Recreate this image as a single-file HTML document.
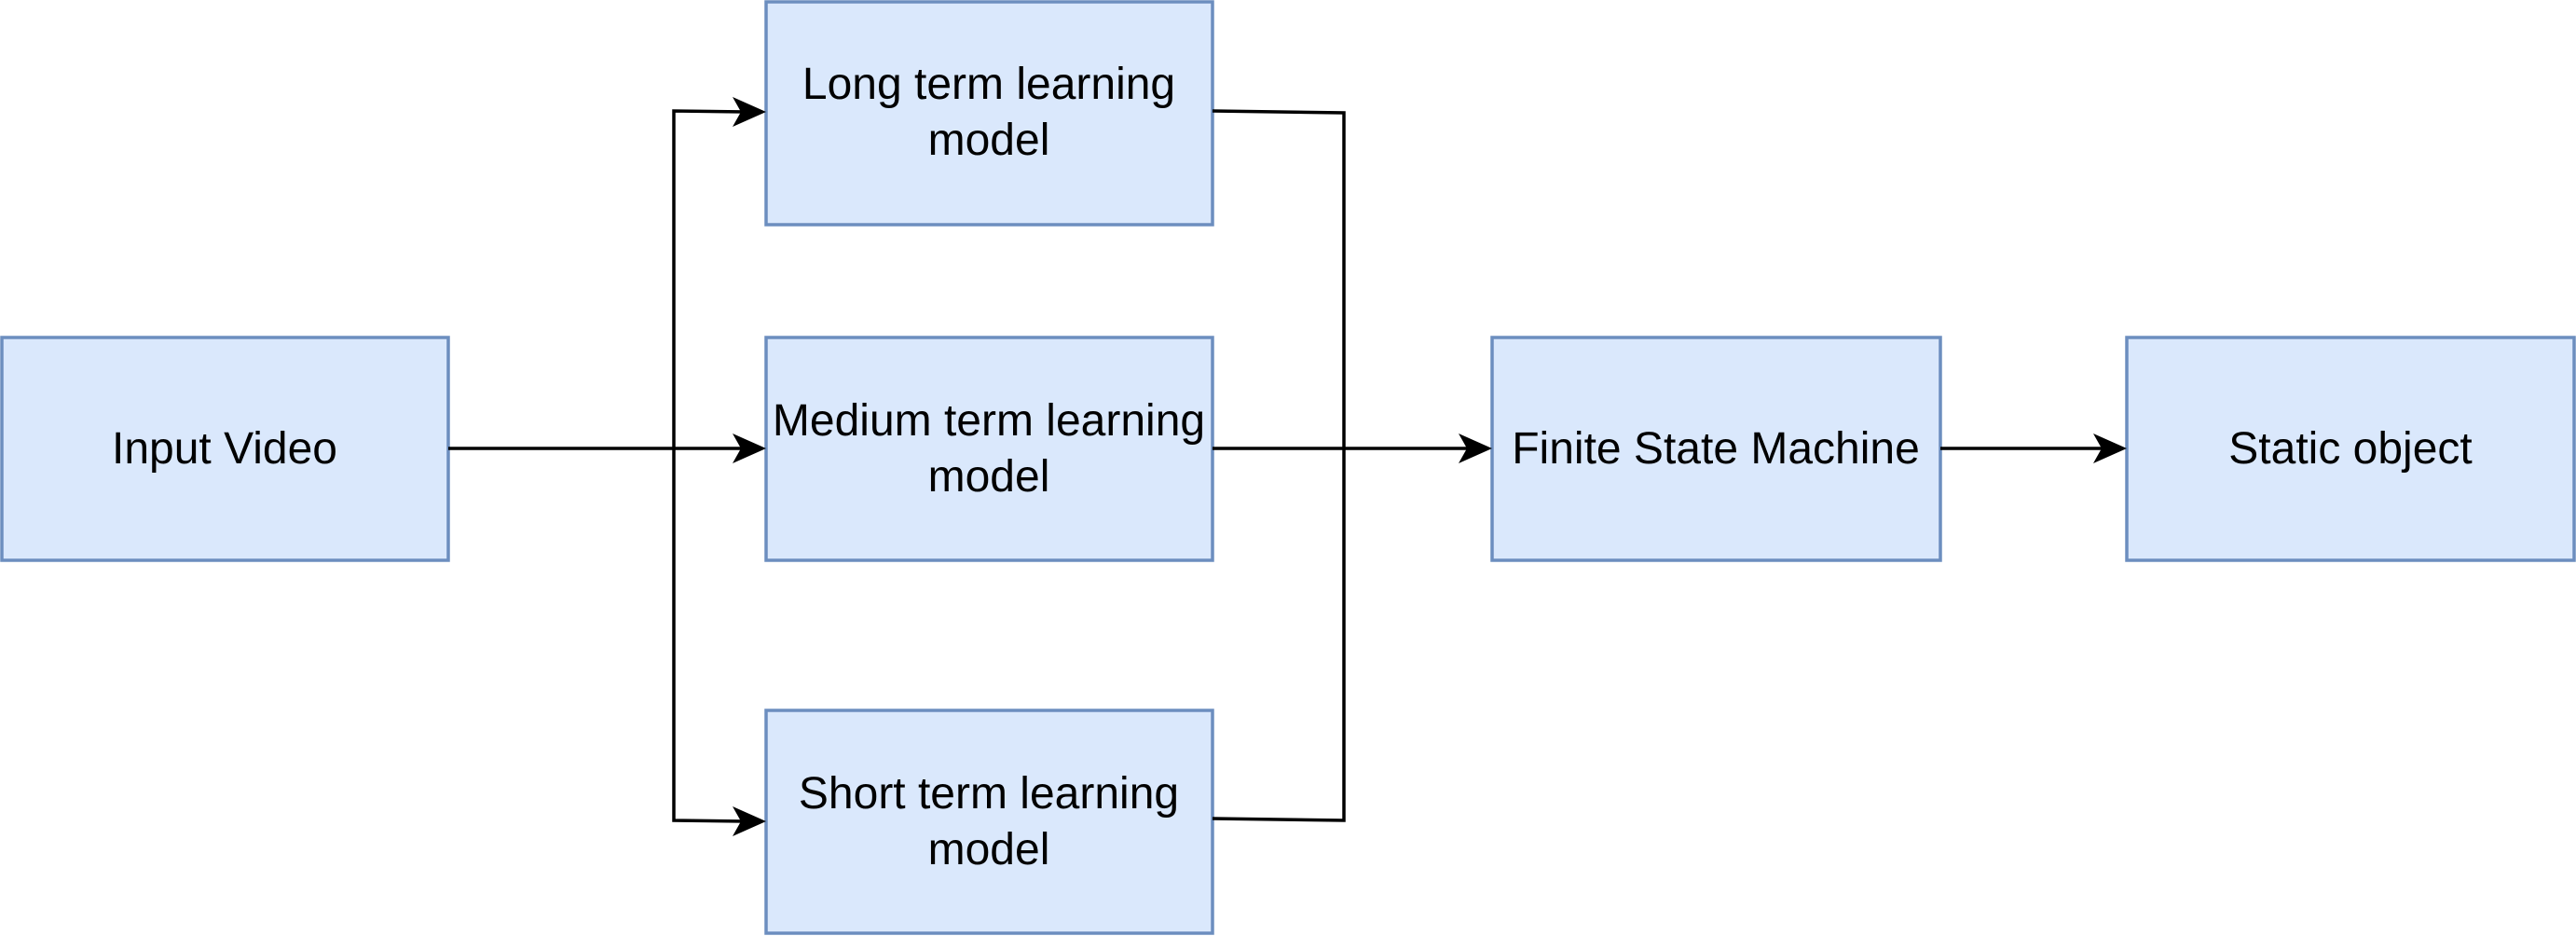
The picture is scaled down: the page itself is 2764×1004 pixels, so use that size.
<!DOCTYPE html>
<html><head><meta charset="utf-8"><style>
html,body{margin:0;padding:0;background:#fff;}
svg{display:block;}
text{font-family:"Liberation Sans",sans-serif;font-size:48px;fill:#000;}
</style></head><body>
<svg width="2764" height="1004" viewBox="0 0 2764 1004" xmlns="http://www.w3.org/2000/svg">
<g fill="#dae8fc" stroke="#6c8ebf" stroke-width="3.5">
<rect x="2" y="362" width="479" height="239"/>
<rect x="822" y="2" width="479" height="239"/>
<rect x="822" y="362" width="479" height="239"/>
<rect x="822" y="762" width="479" height="239"/>
<rect x="1601" y="362" width="481" height="239"/>
<rect x="2282" y="362" width="480" height="239"/>
</g>
<g stroke="#000" stroke-width="3.5" fill="none">
<line x1="481" y1="481" x2="800" y2="481"/>
<polyline points="800,120 723,119 723,880 800,881"/>
<polyline points="1301,119 1442,121 1442,880 1301,878"/>
<line x1="1301" y1="481" x2="1580" y2="481"/>
<line x1="2082" y1="481" x2="2260" y2="481"/>
</g>
<g fill="#000">
<path d="M822,120 L786,104 L795,120 L786,136 Z"/>
<path d="M822,481 L786,465 L795,481 L786,497 Z"/>
<path d="M822,881 L786,865 L795,881 L786,897 Z"/>
<path d="M1601,481 L1565,465 L1574,481 L1565,497 Z"/>
<path d="M2282,481 L2246,465 L2255,481 L2246,497 Z"/>
</g>
<g text-anchor="middle">
<text x="241" y="497">Input Video</text>
<text x="1061" y="106">Long term learning</text>
<text x="1061" y="166">model</text>
<text x="1061" y="467">Medium term learning</text>
<text x="1061" y="527">model</text>
<text x="1061" y="867">Short term learning</text>
<text x="1061" y="927">model</text>
<text x="1841" y="497">Finite State Machine</text>
<text x="2522" y="497">Static object</text>
</g>
</svg>
</body></html>
